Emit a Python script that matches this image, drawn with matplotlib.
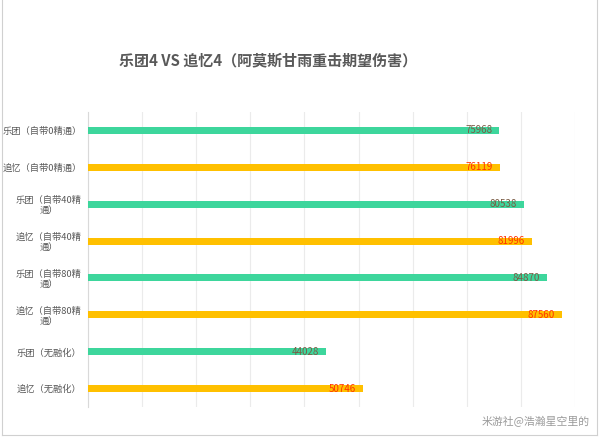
import matplotlib
matplotlib.use("Agg")
import matplotlib.pyplot as plt
from matplotlib.lines import Line2D

plt.rcParams['font.family'] = ['Noto Sans CJK SC', 'DejaVu Sans']

categories = [
    "乐团（自带0精通）",
    "追忆（自带0精通）",
    "乐团（自带40精\n通）",
    "追忆（自带40精\n通）",
    "乐团（自带80精\n通）",
    "追忆（自带80精\n通）",
    "乐团（无融化）",
    "追忆（无融化）",
]
values = [75968, 76119, 80538, 81996, 84870, 87560, 44028, 50746]
weapons = ["乐团", "追忆", "乐团", "追忆", "乐团", "追忆", "乐团", "追忆"]

bar_colors = {"乐团": "#3dd69c", "追忆": "#ffc000"}
label_colors = {"乐团": "#7b5c45", "追忆": "#ff3300"}

fig = plt.figure(figsize=(6, 4.37), dpi=100)
ax = fig.add_axes([88 / 600, 1 - 407 / 437, (575 - 88) / 600, (407 - 112) / 437])

ypos = list(range(len(categories)))
ax.barh(ypos, values, height=0.19, color=[bar_colors[w] for w in weapons], zorder=3)

for y, v, w in zip(ypos, values, weapons):
    ax.annotate(str(v), xy=(v, y), xytext=(-5, 0), textcoords='offset points',
                ha='right', va='center', fontsize=7, color=label_colors[w], zorder=4)

ax.set_xlim(0, 90000)
ax.set_ylim(len(categories) - 0.5, -0.5)
ax.set_xticks(range(0, 90001, 10000))
ax.set_xticklabels([])
ax.tick_params(axis='x', length=0)
ax.set_yticks(ypos)
ax.set_yticklabels(categories, fontsize=6.7, color="#595959", multialignment='center')
ax.tick_params(axis='y', length=0, pad=4.5)
ax.grid(axis='x', color="#ebebeb", linewidth=0.8, zorder=0)
for side in ["top", "right", "bottom"]:
    ax.spines[side].set_visible(False)
ax.spines["left"].set_color("#d9d9d9")
ax.spines["left"].set_linewidth(0.8)

fig.text(268 / 600, 1 - 60 / 437, "乐团4 VS 追忆4（阿莫斯甘雨重击期望伤害）",
         ha='center', va='center', fontsize=10.8, fontweight='bold', color="#595959")
fig.text(590 / 600, 1 - 422 / 437, "米游社@浩瀚星空里的",
         ha='right', va='center', fontsize=7.8, color="#9a9a9a")

# chart frame
frame = dict(color="#d0d0d0", linewidth=0.8, transform=fig.transFigure)
fig.add_artist(Line2D([2 / 600, 2 / 600], [1, 1 - 435 / 437], **frame))
fig.add_artist(Line2D([597 / 600, 597 / 600], [1, 1 - 435 / 437], **frame))
fig.add_artist(Line2D([2 / 600, 597 / 600], [1 - 435 / 437, 1 - 435 / 437], **frame))

fig.savefig("out.png", dpi=100)
